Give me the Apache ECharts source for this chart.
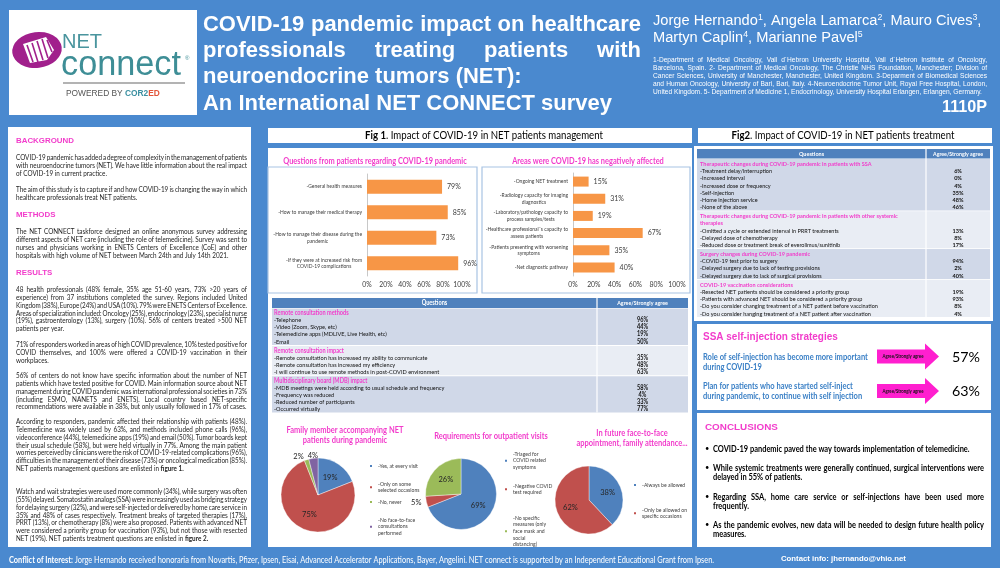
<!DOCTYPE html>
<html><head><meta charset="utf-8">
<script src="https://cdn.jsdelivr.net/npm/echarts@6/dist/echarts.min.js"></script>
<style>html,body{margin:0;padding:0;background:#4a89cf}#c{width:1000px;height:568px}</style>
</head><body><div id="c"></div>
<script>
// ---------------- DATA ----------------
const titleLines = ['COVID-19 pandemic impact on healthcare','professionals treating patients with','neuroendocrine tumors (NET):','An International NET CONNECT survey'];
const authorLine1 = [['Jorge Hernando','1'],[', Angela Lamarca','2'],[', Mauro Cives','3'],[',','']];
const authorLine2 = [['Martyn Caplin','4'],[', Marianne Pavel','5']];
const affiliations = [
 '1-Department of Medical Oncology, Vall d´Hebron University Hospital, Vall d´Hebron Institute of Oncology,',
 'Barcelona, Spain. 2- Department of Medical Oncology, The Christie NHS Foundation, Manchester; Division of',
 'Cancer Sciences, University of Manchester, Manchester, United Kingdom. 3-Deparment of Biomedical Sciences',
 'and Human Oncology, University of Bari, Bari, Italy. 4-Neuroendocrine Tumor Unit, Royal Free Hospital, London,',
 'United Kingdom. 5- Department of Medicine 1, Endocrinology, University Hospital Erlangen, Erlangen, Germany.'];
const posterCode = '1110P';

const headings = ['BACKGROUND','METHODS','RESULTS'];
const paragraphs = [
 ['COVID-19 pandemic has added a degree of complexity in the management of patients','with neuroendocrine tumors (NET). We have little information about the real impact','of COVID-19 in current practice.'],
 ['The aim of this study is to capture if and how COVID-19 is changing the way in which','healthcare professionals treat NET patients.'],
 ['The NET CONNECT taskforce designed an online anonymous survey addressing','different aspects of NET care (including the role of telemedicine). Survey was sent to','nurses and physicians working in ENETS Centers of Excellence (CoE) and other','hospitals with high volume of NET between March 24th and July 14th 2021.'],
 ['48 health professionals (48% female, 35% age 51-60 years, 73% >20 years of','experience) from 37 institutions completed the survey. Regions included United','Kingdom (38%), Europe (24%) and USA (10%). 79% were ENETS Centers of Excellence.','Areas of specialization included: Oncology (25%), endocrinology (23%), specialist nurse','(19%), gastroenterology (13%), surgery (10%). 56% of centers treated >500 NET','patients per year.'],
 ['71% of responders worked in areas of high COVID prevalence, 10% tested positive for','COVID themselves, and 100% were offered a COVID-19 vaccination in their','workplaces.'],
 ['56% of centers do not know have specific information about the number of NET','patients which have tested positive for COVID.  Main information source about NET','management during COVID pandemic was international professional societies in 73%','(including ESMO, NANETS and ENETS). Local country based NET-specific','recommendations were available in 38%, but only usually followed in 17% of cases.'],
 ['According to responders, pandemic affected their relationship with patients (48%).','Telemedicine was widely used by 63%, and methods included phone calls (96%),','videoconference (44%), telemedicine apps (19%) and email (50%). Tumor boards kept','their usual schedule (58%), but were held virtually in 77%. Among the main patient','worries perceived by clinicians were the risk of COVID-19-related complications (96%),','difficulties in the management of their disease (73%) or oncological medication (85%).','NET patients management questions are enlisted in §figure §1.'],
 ['Watch and wait strategies were used more commonly (34%), while surgery was often','(55%) delayed. Somatostatin analogs (SSA) were increasingly used as bridging strategy','for delaying surgery (32%), and were self-injected or delivered by home care service in','35% and 48% of cases respectively. Treatment breaks of targeted therapies (17%),','PRRT (13%), or chemotherapy (8%) were also proposed. Patients with advanced NET','were considered a priority group for vaccination (93%), but not those with resected','NET (19%). NET patients treatment questions are enlisted in §figure §2.']];

const fig1Title = ['Fig 1', '. Impact of COVID-19 in NET patients management'];
const fig2Title = ['Fig2', '. Impact of COVID-19 in NET patients treatment'];

const patientQuestions = ['-General health measures','-How to manage their medical therapy','-How to manage their disease during the\npandemic','-If they were at increased risk from\nCOVID-19 complications'];
const patientQuestionValues = [79, 85, 73, 96];
const affectedAreas = ['-Ongoing NET treatment','-Radiology capacity for imaging\ndiagnostics','-Laboratory/pathology capacity to\nprocess samples/tests','-Healthcare professional´s capacity to\nassess patients','-Patients presenting with worsening\nsymptoms','-Net diagnostic pathway'];
const affectedValues = [15, 31, 19, 67, 35, 40];
const pctTicks = [0, 20, 40, 60, 80, 100];

const table1Sections = ['Remote consultation methods','Remote consultation impact','Multidisciplinary board (MDB) impact'];
const table1Items = [
 ['-Telephone','-Video (Zoom, Skype, etc)','-Telemedicine apps (MDLIVE, Live Health, etc)','-Email'],
 ['-Remote consultation has increased my ability to communicate','-Remote consultation has increased my efficiency','-I will continue to use remote methods in post-COVID environment'],
 ['-MDB meetings were held according to usual schedule and frequency','-Frequency was reduced','-Reduced number of participants','-Occurred virtually']];
const table1Values = [[96, 44, 19, 50], [35, 48, 63], [58, 4, 33, 77]];

const table2Sections = [
 ['Therapeutic changes during COVID-19 pandemic in patients with SSA'],
 ['Therapeutic changes during COVID-19 pandemic in patients with other systemic','therapies'],
 ['Surgery changes during COVID-19 pandemic'],
 ['COVID-19 vaccination considerations']];
const table2Items = [
 ['-Treatment delay/interruption','-Increased interval','-Increased dose or frequency','-Self-injection','-Home injection service','-None of the above'],
 ['-Omitted a cycle or extended interval in PRRT treatments','-Delayed dose of chemotherapy','-Reduced dose or treatment break of everolimus/sunitinib'],
 ['-COVID-19 test prior to surgery','-Delayed surgery due to lack of testing provisions','-Delayed surgery due to lack of surgical provisions'],
 ['-Resected NET patients should be considered a priority group','-Patients with advanced NET should be considered a priority group','-Do you consider changing treatment of a NET patient before vaccination','-Do you consider hanging treatment of a NET patient after vaccination']];
const table2Values = [[6, 0, 4, 35, 48, 46], [13, 8, 17], [94, 2, 40], [19, 93, 8, 4]];
const tableHeaders = ['Questions', 'Agree/Strongly agree'];

const familyTitle = ['Family member accompanying NET', 'patients during pandemic'];
const familyNames = ['-Yes, at every visit','-Only on some\nselected occasions','-No, never','-No face-to-face\nconsultations\nperformed'];
const familyValues = [19, 75, 2, 4];
const reqTitle = ['Requirements for outpatient visits'];
const reqNames = ['-Triaged for\nCOVID related\nsymptoms','-Negative COVID\ntest required','-No specific\nmeasures (only\nface mask and\nsocial\ndistancing)'];
const reqValues = [69, 5, 26];
const futureTitle = ['In future face-to-face', 'appointment, family attendance...'];
const futureNames = ['-Always be allowed','-Only be allowed on\nspecific occasions'];
const futureValues = [38, 62];

const ssaTitle = 'SSA self-injection strategies';
const ssaStatements = [['Role of self-injection has become more important','during COVID-19'],['Plan for patients who have started self-inject','during pandemic, to continue with self injection']];
const ssaArrowText = 'Agree/Strongly agree';
const ssaValues = [57, 63];

const conclusionsTitle = 'CONCLUSIONS';
const conclusions = [
 ['COVID-19 pandemic paved the way towards implementation of telemedicine.'],
 ['While systemic treatments were generally continued, surgical interventions were','delayed in 55% of patients.'],
 ['Regarding SSA, home care service or self-injections have been used more','frequently.'],
 ['As the pandemic evolves, new data will be needed to design future health policy','measures.']];
const conflictBold = 'Conflict of Interest:';
const conflictText = ' Jorge Hernando received honoraria from Novartis, Pfizer, Ipsen, Eisai, Advanced Accelerator Applications, Bayer, Angelini. NET connect is supported by an Independent Educational Grant from Ipsen.';
const contactText = 'Contact info: jhernando@vhio.net';

// ---------------- STYLE / LAYOUT ----------------
const SANS = '"Liberation Sans", Arial, Helvetica, sans-serif';
const CAL = 'Lato, "Open Sans", sans-serif';
const MAG = '#f23ccb';
const BG = '#4a89cf';
const ORANGE = '#f79646';
const PIE_COLORS = ['#4f81bd', '#c0504d', '#9bbb59', '#8064a2'];
const TXT = '#404040';
const K = 0.86; // horizontal condensing for the Calibri-like face

const ctx = document.createElement('canvas').getContext('2d');
function mw(t, s, wt, fam) { ctx.font = (wt || 'normal') + ' ' + s + 'px ' + fam; return ctx.measureText(t).width; }
function fit(t, w, wt, fam) { return 100 * w / mw(t, 100, wt, fam); }

const G = [];
function R(x, y, w, h, fill, stroke, lw) {
  G.push({ type: 'rect', z: -1, silent: true, shape: { x, y, width: w, height: h }, style: { fill: fill || 'none', stroke: stroke || null, lineWidth: lw || 1 } });
}
function T(x, y, text, size, o) {
  o = o || {};
  const fam = o.fam || CAL;
  const k = (fam === CAL && o.cond !== false) ? K : 1;
  const st = { text, fontSize: size / k, fontFamily: fam, fontWeight: o.wt || 'normal', fill: o.fill || '#000',
    align: o.align || 'left', verticalAlign: 'middle', textAlign: o.align || 'left', textVerticalAlign: 'middle' };
  if (o.rich) {
    const r = {};
    Object.keys(o.rich).forEach(key => { r[key] = Object.assign({}, o.rich[key], { fontSize: o.rich[key].fontSize / k }); });
    st.rich = r;
  }
  G.push({ type: 'text', x, y, scaleX: k, z: 100, silent: true, style: st });
}
function jline(text, x, y, width, size, fam, wt, fill, justify) {
  const raw = text.split(' ').filter(w => w.length);
  const measure = s => raw.map(w => {
    const b = w.indexOf('§') === 0; const t = b ? w.slice(1) : w; const ww = b ? 'bold' : wt;
    return { t, ww, w: mw(t, s, ww, fam) };
  });
  let words = measure(size);
  let total = words.reduce((a, b) => a + b.w, 0);
  const minSp = 0.55 * mw(' ', size, wt, fam);
  if (words.length > 1 && total + (words.length - 1) * minSp > width) {
    size = size * width / (total + (words.length - 1) * minSp);
    words = measure(size);
    total = words.reduce((a, b) => a + b.w, 0);
  }
  const sp = (justify && words.length > 1) ? (width - total) / (words.length - 1) : mw(' ', size, wt, fam);
  let cx = x;
  words.forEach(it => { T(cx, y, it.t, size, { fam, wt: it.ww, fill }); cx += it.w + sp; });
}

// ---------------- PANELS ----------------
R(9, 10, 188, 105, '#ffffff');
R(8, 127, 243, 420, '#ffffff');
R(268, 128, 424, 15, '#ffffff');
R(268, 148, 424, 399, '#ffffff');
R(268, 167, 209, 126, null, '#a8c3e3', 1.2);
R(482, 167, 208, 126, null, '#a8c3e3', 1.2);
R(698, 128, 294, 15, '#ffffff');
R(694, 146, 299, 175, '#ffffff');
R(697, 324, 294, 86, '#ffffff');
R(697, 413, 294, 134, '#ffffff');

// ---------------- LOGO ----------------
G.push({ type: 'circle', x: 37, y: 50, scaleX: 1.38, scaleY: 1, rotation: 0.12, z: 5, silent: true, shape: { cx: 0, cy: 0, r: 18 }, style: { fill: '#a1208c' } });
G.push({ type: 'polygon', z: 6, silent: true, shape: { points: [[23, 44], [46, 37], [54, 50], [47, 60], [30, 63]] }, style: { fill: '#ffffff' } });
[[27, 45, 33, 62], [32, 43, 38, 62], [37, 41, 43, 60], [42, 39, 48, 58], [47, 40, 52, 52]].forEach(l =>
  G.push({ type: 'line', z: 7, silent: true, shape: { x1: l[0], y1: l[1], x2: l[2], y2: l[3] }, style: { stroke: '#a1208c', lineWidth: 1.6 } }));
T(62, 42, 'NET', fit('NET', 40, 'normal', SANS), { fam: SANS, fill: '#4a959e' });
T(61, 66, 'connect', fit('connect', 120, 'normal', SANS), { fam: SANS, fill: '#3e8e96' });
T(185, 58, '®', 6, { fam: SANS, fill: '#3e8e96' });
G.push({ type: 'line', z: 5, silent: true, shape: { x1: 63, y1: 83, x2: 185, y2: 83 }, style: { stroke: '#9a9a9a', lineWidth: 1.5 } });
(function () {
  const s = fit('POWERED BY COR2ED', 94, 'normal', SANS);
  T(66, 94, '{g|POWERED BY }{t|COR2}{o|ED}', s, { fam: SANS, rich: { g: { fontSize: s, fontFamily: SANS, fill: '#555' }, t: { fontSize: s, fontFamily: SANS, fontWeight: 'bold', fill: '#3a8fa0' }, o: { fontSize: s, fontFamily: SANS, fontWeight: 'bold', fill: '#e2553a' } } });
})();

// ---------------- HEADER TEXT ----------------
(function () {
  const ts = fit(titleLines[3], 409, 'bold', SANS);
  const ys = [25, 51, 77, 104];
  titleLines.forEach((l, i) => jline(l, 203, ys[i], 438, ts, SANS, 'bold', '#fff', i < 2));
  const plain2 = authorLine2.map(a => a[0]).join('');
  const sup2 = authorLine2.map(a => a[1]).join('');
  const as = 100 * 210 / (mw(plain2, 100, 'normal', SANS) + mw(sup2, 60, 'normal', SANS));
  const rich = { n: { fontSize: as, fontFamily: SANS, fill: '#fff' }, s: { fontSize: as * 0.6, fontFamily: SANS, fill: '#fff', verticalAlign: 'top' } };
  const mk = arr => arr.map(a => '{n|' + a[0] + '}' + (a[1] ? '{s|' + a[1] + '}' : '')).join('');
  T(653, 21, mk(authorLine1), as, { fam: SANS, fill: '#fff', rich });
  T(653, 38, mk(authorLine2), as, { fam: SANS, fill: '#fff', rich });
  const fs = fit(affiliations[4], 330, 'normal', SANS);
  const ay = [60, 68, 76, 84, 92];
  affiliations.forEach((l, i) => jline(l, 653, ay[i], 334, fs, SANS, 'normal', '#fff', i < 4));
  T(987, 108, posterCode, fit(posterCode, 45, 'bold', SANS), { fam: SANS, wt: 'bold', fill: '#fff', align: 'right' });
})();

// ---------------- LEFT COLUMN ----------------
(function () {
  const hs = fit('BACKGROUND', 58, 'bold', SANS);
  const headY = [141, 215, 273];
  headings.forEach((h, i) => T(16, headY[i], h, hs, { fam: SANS, wt: 'bold', fill: MAG }));
  const ps = fit(paragraphs[5][4], 231, 'normal', CAL);
  const pY = [158, 190, 232, 290, 345, 376, 422, 492];
  const step = 7.75;
  paragraphs.forEach((p, i) => p.forEach((l, j) => jline(l, 16, pY[i] + j * step, 231, ps, CAL, 'normal', '#1e1e1e', j < p.length - 1)));
})();

// ---------------- FIG TITLES ----------------
function figTitle(parts, cx, w) {
  const s = fit(parts[0] + parts[1], w, 'normal', CAL);
  T(cx, 135, '{b|' + parts[0] + '}{n|' + parts[1] + '}', s, { align: 'center', rich: { b: { fontSize: s, fontFamily: CAL, fontWeight: 'bold', fill: '#000' }, n: { fontSize: s, fontFamily: CAL, fill: '#000' } } });
}
figTitle(fig1Title, 484, 238);
figTitle(fig2Title, 843, 223);

(function () {
  const s1 = fit('Questions from patients regarding COVID-19 pandemic', 184, 'bold', CAL);
  T(375, 161, 'Questions from patients regarding COVID-19 pandemic', s1, { wt: 'bold', fill: MAG, align: 'center' });
  T(588, 161, 'Areas were COVID-19 has negatively affected', s1, { wt: 'bold', fill: MAG, align: 'center' });
  const ps = fit(familyTitle[0], 117, 'bold', CAL);
  familyTitle.forEach((l, i) => T(345, 430 + i * 10, l, ps, { wt: 'bold', fill: MAG, align: 'center' }));
  reqTitle.forEach((l, i) => T(491, 436 + i * 10, l, ps, { wt: 'bold', fill: MAG, align: 'center' }));
  futureTitle.forEach((l, i) => T(632, 433 + i * 10, l, ps, { wt: 'bold', fill: MAG, align: 'center' }));
})();

// ---------------- TABLES ----------------
function table(cfg) {
  const { x0, x1, xDiv, headTop, headH, sections, items, values, tx, size, step, padTop, padBottom, gap } = cfg;
  R(x0, headTop, x1 - x0, headH, '#4f81bd');
  T((x0 + xDiv) / 2, headTop + headH / 2, tableHeaders[0], size, { wt: 'bold', fill: '#fff', align: 'center' });
  T((xDiv + x1) / 2, headTop + headH / 2, tableHeaders[1], size * 0.95, { wt: 'bold', fill: '#fff', align: 'center' });
  let top = headTop + headH + 0.5;
  sections.forEach((sec, i) => {
    const titles = Array.isArray(sec) ? sec : [sec];
    const n = titles.length + items[i].length;
    const first = top + padTop;
    const bottom = first + (n - 1) * step + padBottom;
    R(x0, top, x1 - x0, bottom - top, i % 2 === 0 ? '#d0d8e8' : '#e9edf4');
    titles.forEach((t, k) => T(tx, first + k * step, t, size, { wt: 'bold', fill: MAG }));
    items[i].forEach((t, k) => {
      const y = first + (titles.length + k) * step;
      T(tx, y, t, size, { fill: '#111' });
      T((xDiv + x1) / 2, y, values[i][k] + '%', size, { wt: 'bold', fill: '#111', align: 'center' });
    });
    top = bottom + gap;
  });
  G.push({ type: 'line', z: 0, silent: true, shape: { x1: xDiv, y1: headTop, x2: xDiv, y2: top - gap }, style: { stroke: '#ffffff', lineWidth: 1.2 } });
}
table({ x0: 272, x1: 688, xDiv: 597, headTop: 298, headH: 10, sections: table1Sections, items: table1Items, values: table1Values, tx: 274,
  size: fit(table1Items[1][0], 154, 'normal', CAL), step: 7.1, padTop: 4.5, padBottom: 3.5, gap: 1 });
table({ x0: 697, x1: 990, xDiv: 926, headTop: 149, headH: 9.5, sections: table2Sections, items: table2Items, values: table2Values, tx: 700,
  size: fit(table2Items[1][0], 139, 'normal', CAL), step: 7.15, padTop: 5, padBottom: 3.5, gap: 0.8 });

// ---------------- SSA ----------------
(function () {
  T(703, 337, ssaTitle, fit(ssaTitle, 135, 'bold', SANS), { fam: SANS, wt: 'bold', fill: MAG });
  const s = fit(ssaStatements[0][0], 165, 'bold', CAL);
  const lineY = [[357, 367], [386, 396]];
  const arrowY = [356.5, 391];
  const ps = fit('57%', 28, 'normal', CAL);
  ssaStatements.forEach((st, i) => {
    st.forEach((l, j) => T(703, lineY[i][j], l, s, { wt: 'bold', fill: '#3b80c6' }));
    const c = arrowY[i];
    G.push({ type: 'polygon', z: 5, silent: true, shape: { points: [[877, c - 7], [925, c - 7], [925, c - 13], [939, c], [925, c + 13], [925, c + 7], [877, c + 7]] }, style: { fill: '#ff1fcf' } });
    T(903, c, ssaArrowText, 4.3, { wt: 'bold', fill: '#111', align: 'center' });
    T(966, c + 0.5, ssaValues[i] + '%', ps, { fill: '#000', align: 'center', cond: false });
  });
})();

// ---------------- CONCLUSIONS ----------------
(function () {
  T(705, 427, conclusionsTitle, fit(conclusionsTitle, 73, 'bold', SANS), { fam: SANS, wt: 'bold', fill: MAG });
  const s = fit(conclusions[0][0], 257, 'bold', CAL);
  const ys = [[449], [468, 477], [497, 506], [525, 534]];
  conclusions.forEach((c, i) => {
    T(705, ys[i][0], '•', s, { fill: '#000', cond: false });
    c.forEach((l, j) => jline(l, 713, ys[i][j], 271, s, CAL, 'bold', '#000', j < c.length - 1));
  });
})();

// ---------------- FOOTER ----------------
(function () {
  const s = fit(conflictBold + conflictText, 705, 'normal', CAL);
  T(9, 560, '{b|' + conflictBold + '}{n|' + conflictText + '}', s, { rich: { b: { fontSize: s, fontFamily: CAL, fontWeight: 'bold', fill: '#fff' }, n: { fontSize: s, fontFamily: CAL, fill: '#fff' } } });
  T(781, 559, contactText, fit(contactText, 125, 'bold', SANS), { fam: SANS, wt: 'bold', fill: '#fff' });
})();

// ---------------- ECHARTS ----------------
const labS = fit('-How to manage their medical therapy', 84, 'normal', CAL);
function catAxis(gi, data) {
  return { gridIndex: gi, type: 'category', data, inverse: true,
    axisLine: { show: true, lineStyle: { color: '#c8c8c8', width: 1 } }, axisTick: { show: false },
    axisLabel: { margin: 5, fontSize: labS, fontFamily: CAL, color: TXT,
      formatter: v => v.split('\n').map(l => '{c|' + l + '}').join('\n'),
      rich: { c: { align: 'center', fontSize: labS, fontFamily: CAL, color: TXT, lineHeight: labS * 1.3 } } } };
}
function valAxis(gi) {
  return { gridIndex: gi, type: 'value', min: pctTicks[0], max: pctTicks[pctTicks.length - 1], interval: pctTicks[1] - pctTicks[0],
    axisLine: { show: false }, axisTick: { show: false }, splitLine: { show: false },
    axisLabel: { formatter: '{value}%', fontSize: 6.8, fontFamily: CAL, color: TXT, margin: 5 } };
}
function barSeries(gi, data, w) {
  return { type: 'bar', xAxisIndex: gi, yAxisIndex: gi, data, barWidth: w, itemStyle: { color: ORANGE }, silent: true,
    label: { show: true, position: 'right', distance: 5, formatter: '{c}%', fontSize: 7, fontFamily: CAL, color: TXT } };
}
const LS = fit(familyNames[0], 40, 'normal', CAL);
function pieData(names, values, outside) {
  return names.map((n, i) => ({ name: n, value: values[i], itemStyle: { color: PIE_COLORS[i] },
    label: { position: outside.indexOf(i) >= 0 ? 'outside' : 'inside' } }));
}
function pieSeries(center, r, data, shifts) {
  return { type: 'pie', center, radius: r, startAngle: 90, avoidLabelOverlap: false, silent: true, data,
    itemStyle: { borderColor: '#ffffff', borderWidth: 0.4 },
    label: { formatter: '{c}%', fontSize: 7.5, fontFamily: CAL, color: '#262626', distanceToLabelLine: 1 },
    labelLine: { show: false, length: 3, length2: 1 },
    labelLayout: function (p) { const s = shifts && shifts[p.dataIndex]; return s ? { dx: s[0], dy: s[1], hideOverlap: false } : { hideOverlap: false }; } };
}
function leg(name, left, top) {
  return { data: [name], left, top, orient: 'vertical', icon: 'rect', itemWidth: 4, itemHeight: 4, itemGap: 0, padding: 0, selectedMode: false,
    textStyle: { fontSize: LS, lineHeight: LS * 1.3, fontFamily: CAL, color: TXT } };
}
const famTops = [462.7, 480.7, 498.7, 516.7];
const reqTops = [450.7, 482.7, 514.7];
const futTops = [481.7, 506.7];

const chart = echarts.init(document.getElementById('c'), null, { renderer: 'canvas' });
chart.setOption({
  animation: false,
  backgroundColor: BG,
  grid: [{ left: 367, top: 174, width: 95, height: 102 }, { left: 573, top: 173, width: 104, height: 103 }],
  xAxis: [valAxis(0), valAxis(1)],
  yAxis: [catAxis(0, patientQuestions), catAxis(1, affectedAreas)],
  legend: [].concat(
    familyNames.map((n, i) => leg(n, 368, famTops[i])),
    reqNames.map((n, i) => leg(n, 503, reqTops[i])),
    futureNames.map((n, i) => leg(n, 632, futTops[i]))),
  series: [
    barSeries(0, patientQuestionValues, 14),
    barSeries(1, affectedValues, 10),
    pieSeries([318, 495], 37, pieData(familyNames, familyValues, [2, 3]), { 2: [0, 0], 3: [7, 0] }),
    pieSeries([461, 494], 35.5, pieData(reqNames, reqValues, [1])),
    pieSeries([589, 500], 34, pieData(futureNames, futureValues, []))
  ],
  graphic: { elements: G }
});
</script></body></html>
